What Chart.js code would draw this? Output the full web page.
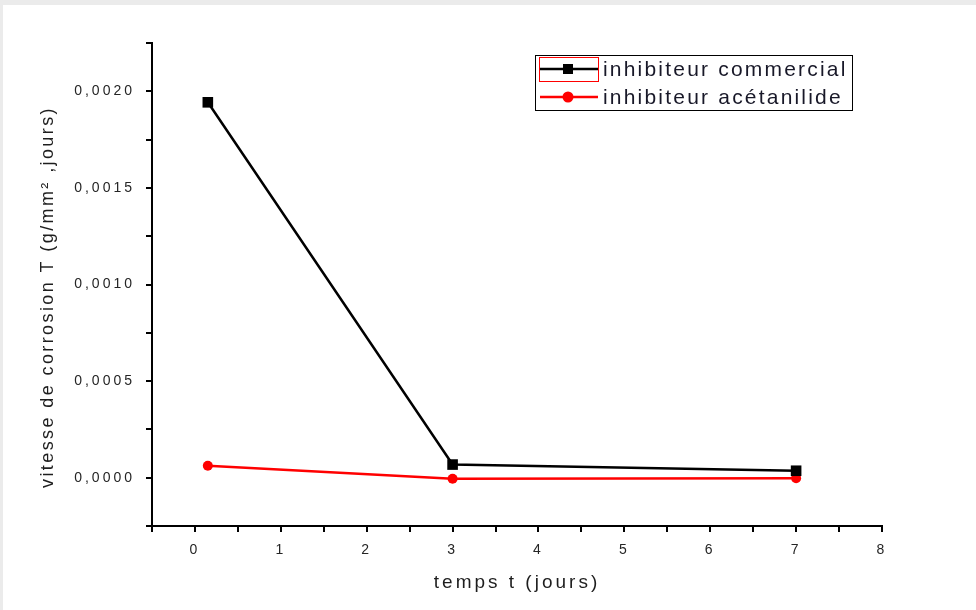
<!DOCTYPE html>
<html>
<head>
<meta charset="utf-8">
<script src="https://cdn.jsdelivr.net/npm/chart.js@4"></script>
<style>
  body { margin: 0; background: #ebebeb; width: 976px; height: 610px; overflow: hidden; }
  #chart { position: absolute; left: 3px; top: 5px; background: #fff; }
</style>
</head>
<body>
<canvas id="chart" width="973" height="605"></canvas>
<script>
// data
const days = [0.15, 3, 7];
const commercial = [0.001943, 0.000068, 0.000036];
const acetanilide = [0.000062, -0.000005, -0.000003];
const seriesNames = ["inhibiteur commercial", "inhibiteur acétanilide"];
const xTitle = "temps t (jours)";
const yTitle = "vitesse de corrosion T (g/mm² ,jours)";
const xMin = -0.5, xMax = 8, xStep = 0.5;
const yMin = -0.00025, yMax = 0.00225, yStep = 0.00025;

const font = "'Liberation Sans', Arial, sans-serif";
const pts = ys => days.map((x, i) => ({ x, y: ys[i] }));

const spacing = {
    id: "spacing",
    beforeLayout(c) { c.ctx.letterSpacing = "3px"; },
    beforeDraw(c) { c.ctx.letterSpacing = "3px"; }
};

// y title sits a bit below the plot centre in the original, so it is drawn here
const yTitlePlugin = {
    id: "yTitle",
    afterDraw(c) {
        const ctx = c.ctx;
        ctx.save();
        ctx.letterSpacing = "2.4px";
        ctx.translate(45, 292);
        ctx.rotate(-Math.PI / 2);
        ctx.font = "18px " + font;
        ctx.fillStyle = "#1e1e1e";
        ctx.textAlign = "center"; ctx.textBaseline = "middle";
        ctx.fillText(yTitle, 0, 0);
        ctx.restore();
    }
};

// boxed legend like the Origin one, with the red selection frame on the first entry
const boxLegend = {
    id: "boxLegend",
    afterDraw(c) {
        const ctx = c.ctx;
        ctx.save();
        ctx.letterSpacing = "2.2px";
        ctx.strokeStyle = "#000"; ctx.lineWidth = 1;
        ctx.strokeRect(532.5, 50.5, 317, 55);
        ctx.strokeStyle = "#ff0000";
        ctx.strokeRect(536.5, 52.5, 59, 24);
        const rows = [64, 92];
        c.data.datasets.forEach((ds, i) => {
            const y = rows[i];
            ctx.strokeStyle = ds.borderColor; ctx.lineWidth = 2.5;
            ctx.beginPath(); ctx.moveTo(537, y); ctx.lineTo(595, y); ctx.stroke();
            ctx.fillStyle = ds.pointBackgroundColor;
            if (ds.pointStyle === "rect") ctx.fillRect(560, y - 5, 10, 10);
            else { ctx.beginPath(); ctx.arc(565, y, 5.5, 0, Math.PI * 2); ctx.fill(); }
            ctx.fillStyle = "#181828";
            ctx.font = "21px " + font;
            ctx.textBaseline = "middle";
            ctx.fillText(ds.label, 600, y + 1);
        });
        ctx.restore();
    }
};

new Chart(document.getElementById("chart"), {
    type: "scatter",
    data: {
        datasets: [
            { label: seriesNames[0], data: pts(commercial), showLine: true, borderColor: "#000", borderWidth: 2.5,
              pointStyle: "rect", pointRadius: 7.5, pointBackgroundColor: "#000", pointBorderWidth: 0 },
            { label: seriesNames[1], data: pts(acetanilide), showLine: true, borderColor: "#ff0000", borderWidth: 2.5,
              pointStyle: "circle", pointRadius: 5, pointBackgroundColor: "#ff0000", pointBorderWidth: 0 }
        ]
    },
    options: {
        responsive: false, animation: false, devicePixelRatio: 1,
        layout: { padding: { left: 0, top: 38, right: 94, bottom: 0 } },
        plugins: { legend: { display: false }, tooltip: { enabled: false } },
        scales: {
            x: {
                type: "linear", min: xMin, max: xMax,
                afterFit: s => { s.height = 84; },
                border: { color: "#000", width: 2 },
                grid: { drawOnChartArea: false, tickLength: 6, color: "#000", lineWidth: 2 },
                ticks: { stepSize: xStep, autoSkip: false, maxRotation: 0, minRotation: 0, padding: 10,
                    color: "#252525", font: { family: font, size: 14 },
                    callback: v => { const k = Math.round(v / xStep); return k % 2 === 0 ? String(k / 2) : ""; } },
                title: { display: true, text: xTitle, color: "#1e1e1e",
                    font: { family: font, size: 19 }, padding: { top: 16, bottom: 16 } }
            },
            y: {
                type: "linear", min: yMin, max: yMax,
                afterFit: s => { s.width = 149; },
                border: { color: "#000", width: 2 },
                grid: { drawOnChartArea: false, tickLength: 6, color: "#000", lineWidth: 2 },
                ticks: { stepSize: yStep, autoSkip: false, padding: 11,
                    color: "#252525", font: { family: font, size: 14 },
                    callback: v => { const k = Math.round(v / yStep); return k % 2 === 0 ? (k * yStep).toFixed(4).replace(".", ",") : ""; } },
                title: { display: false }
            }
        }
    },
    plugins: [spacing, yTitlePlugin, boxLegend]
});
</script>
</body>
</html>
